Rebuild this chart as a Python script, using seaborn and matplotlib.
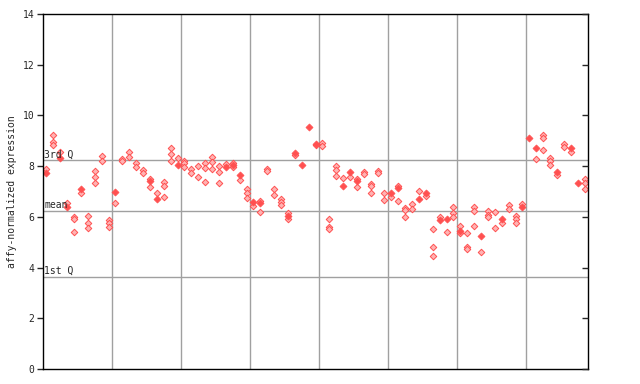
import matplotlib
matplotlib.use("Agg")
import matplotlib.pyplot as plt
import seaborn as sns
import pandas as pd

# replicate values per sample (hatched diamonds) and the solid ones
reps = [
    [7.88], [9.22, 8.95, 8.85], [8.57], [6.55], [6.00, 5.92, 5.39],
    [6.93], [6.05, 5.75, 5.58], [7.80, 7.56, 7.33], [8.40, 8.19], [5.88, 5.77, 5.61],
    [6.53], [8.30, 8.22], [8.56, 8.38], [8.14, 7.98], [7.85, 7.72],
    [7.48, 7.17], [6.93], [7.39, 7.22, 6.77], [8.70, 8.47, 8.19], [8.31],
    [8.22, 8.12, 7.95], [7.88, 7.72], [8.00, 7.56], [8.11, 7.92, 7.37], [8.35, 8.18, 7.87],
    [8.00, 7.78, 7.33], [8.08], [8.11, 7.95], [7.44], [7.09, 6.93, 6.74],
    [6.41], [6.63, 6.18], [7.90, 7.82], [7.09, 6.85], [6.72, 6.60, 6.48],
    [6.14, 5.90], [8.44], [], [], [8.83],
    [8.90, 8.78], [5.90, 5.59, 5.51], [8.00, 7.85, 7.61], [7.52], [7.58],
    [7.49, 7.19], [7.78, 7.69], [7.30, 7.22, 6.94], [7.80, 7.72], [6.93, 6.66],
    [6.80], [7.22, 6.61], [6.34, 6.27, 5.98], [6.51, 6.32], [7.01],
    [6.82], [5.51, 4.80, 4.44], [5.98], [5.39], [6.38, 6.14, 6.01],
    [5.64, 5.35], [5.35, 4.80, 4.72], [6.38, 6.22, 5.64], [4.60], [6.24, 6.07, 5.98],
    [6.19, 5.55], [5.77], [6.47, 6.30], [6.02, 5.90, 5.75], [6.51],
    [], [8.27], [9.23, 9.12, 8.62], [8.31, 8.21, 8.03], [7.66],
    [8.87, 8.77], [8.54], [], [7.48, 7.32, 7.09],
]
solid = [
    7.72, None, 8.33, 6.40, None, 7.11, None, None, None, None,
    6.98, None, None, None, None, 7.42, 6.70, None, None, 8.06,
    None, None, None, None, None, None, 7.98, 8.03, 7.66, None,
    6.60, 6.53, None, None, None, 6.05, 8.53, 8.03, 9.55, 8.87,
    None, None, None, 7.23, 7.75, 7.41, None, None, None, None,
    6.95, 7.15, None, None, 6.70, 6.95, None, 5.88, 5.93, None,
    5.43, None, None, 5.26, None, None, 5.93, None, None, 6.39,
    9.12, 8.73, None, None, 7.77, None, 8.73, 7.35, None,
]
q3, mean, q1 = 8.24, 6.23, 3.63
group_edges = [10, 20, 30, 40, 50, 60, 70]

rows = []
for i, vals in enumerate(reps):
    for v in vals:
        rows.append((i + 0.5, v, "rep"))
for i, v in enumerate(solid):
    if v is not None:
        rows.append((i + 0.5, v, "solid"))
df = pd.DataFrame(rows, columns=["sample", "value", "kind"])

sns.set_style("white")
plt.rcParams["font.family"] = ["DejaVu Sans Mono"]

fig = plt.figure(figsize=(6.4, 3.84), dpi=100)
ax = fig.add_axes([43 / 640, 15 / 384, 545 / 640, 355 / 384])

for x in group_edges:
    ax.axvline(x, color="#a0a0a0", lw=1, zorder=1)
for y, lab in [(q3, "3rd Q"), (mean, "mean"), (q1, "1st Q")]:
    ax.axhline(y, color="#a0a0a0", lw=1, zorder=1)
    ax.text(0.15, y + 0.03, lab, fontsize=7, va="bottom", ha="left", zorder=3)

sns.scatterplot(data=df[df.kind == "rep"], x="sample", y="value", marker="D",
                s=11, color="#ffb3b3", edgecolor="#ff5050", linewidth=0.7,
                ax=ax, zorder=2, legend=False)
sns.scatterplot(data=df[df.kind == "solid"], x="sample", y="value", marker="D",
                s=13, color="#ff5050", edgecolor="#ff5050", linewidth=0.5,
                ax=ax, zorder=2, legend=False)

ax.set_xlim(0, len(reps))
ax.set_ylim(0, 14)
ax.set_yticks(range(0, 15, 2))
ax.set_xticks([])
ax.set_xlabel("")
ax.set_ylabel("affy-normalized expression", fontsize=7, labelpad=4)
ax.tick_params(axis="y", labelsize=7, length=4, width=1, direction="out",
               left=True, right=False, pad=2)
for s in ax.spines.values():
    s.set_visible(True)
    s.set_color("black")
    s.set_linewidth(1)

# inward ticks on the right edge
ax2 = ax.twinx()
ax2.set_ylim(0, 14)
ax2.set_yticks(range(0, 15, 2))
ax2.tick_params(axis="y", length=4, width=1, direction="in", right=True,
                labelright=False)
for s in ax2.spines.values():
    s.set_visible(False)

fig.savefig("out.png", dpi=100)
